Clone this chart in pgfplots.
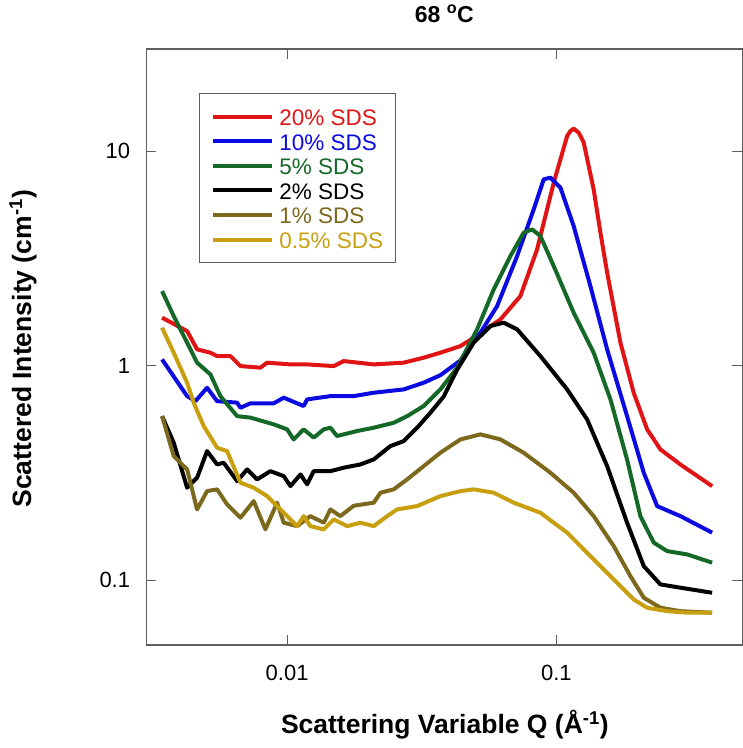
\documentclass[border=0pt]{standalone}
\usepackage{fontspec}
\setmainfont{Liberation Sans}
\usepackage{pgfplots}
\pgfplotsset{compat=1.18}
\definecolor{c20}{RGB}{224,20,20}
\definecolor{c10}{RGB}{10,10,225}
\definecolor{c5}{RGB}{20,105,40}
\definecolor{c2}{RGB}{0,0,0}
\definecolor{c1}{RGB}{125,105,30}
\definecolor{c05}{RGB}{200,160,15}
\definecolor{axgray}{RGB}{95,95,95}
\begin{document}
\begin{tikzpicture}
\useasboundingbox (0,0) rectangle (743pt,748pt);
\begin{loglogaxis}[
  at={(146.3pt,103pt)}, anchor=south west,
  scale only axis, width=596pt, height=596pt,
  xmin=0.003, xmax=0.49, ymin=0.05, ymax=30,
  xtick={0.01,0.1}, xticklabels={0.01,0.1},
  ytick={0.1,1,10}, yticklabels={0.1,1,10},
  xminorticks=false, yminorticks=false,
  tick align=inside, tick pos=both,
  major tick length=10pt,
  every tick/.style={axgray, line width=1pt},
  axis line style={axgray, line width=1.3pt},
  ticklabel style={font=\fontsize{22}{26}\selectfont},
  xticklabel style={anchor=center, inner sep=0pt, yshift=-27.5pt},
  yticklabel style={anchor=east, inner sep=0pt, xshift=-16pt},
  title={68 \textsuperscript{o}C},
  title style={at={(axis description cs:0.5,1.0487)}, anchor=center, font=\bfseries\fontsize{23}{27}\selectfont},
  xlabel={Scattering Variable Q (Å\textsuperscript{-1})},
  xlabel style={at={(axis description cs:0.501,-0.134)}, anchor=center, font=\bfseries\fontsize{26.5}{30}\selectfont},
  ylabel={Scattered Intensity (cm\textsuperscript{-1})},
  ylabel style={at={(axis description cs:-0.207,0.497)}, anchor=center, font=\bfseries\fontsize{26.5}{30}\selectfont},
  legend style={at={(axis description cs:0.0884,0.926)}, anchor=north west, draw=axgray, line width=0.8pt,
    font=\fontsize{22.5}{26}\selectfont, inner xsep=12pt, inner ysep=12pt, row sep=2.6pt, column sep=5pt,
    nodes={inner sep=0pt, text height=20pt, text depth=2pt}},
  legend cell align=left,
  legend image code/.code={\draw[#1] (0pt,0pt) -- (59pt,0pt);},
  every axis plot/.append style={line width=4pt, line join=round},
]
\addplot[c20] coordinates {
(0.003434,1.678)(0.004253,1.453)(0.004632,1.194)(0.005190,1.152)(0.005496,1.111)(0.006161,1.111)
(0.006710,0.998)(0.007959,0.981)(0.008427,1.035)(0.01029,1.016)(0.01187,1.016)(0.01489,0.998)
(0.01623,1.053)(0.02097,1.016)(0.02710,1.035)(0.03215,1.092)(0.03709,1.152)(0.04401,1.237)
(0.04930,1.353)(0.06196,1.647)(0.07349,2.115)(0.08477,3.493)(0.09772,7.146)(0.1096,11.79)
(0.1127,12.43)(0.1159,12.76)(0.1210,12.22)(0.1263,10.98)(0.1375,6.65)(0.1457,4.178)(0.1543,2.72)
(0.1729,1.283)(0.1936,0.750)(0.2172,0.506)(0.2433,0.408)(0.2887,0.347)(0.3787,0.275)
};
\addlegendentry{\textcolor{c20}{20\% SDS}}
\addplot[c10] coordinates {
(0.003434,1.072)(0.004253,0.723)(0.004565,0.685)(0.005045,0.791)(0.005496,0.685)(0.006523,0.674)
(0.006710,0.638)(0.007306,0.669)(0.008917,0.669)(0.009714,0.711)(0.01152,0.650)(0.01187,0.698)
(0.01448,0.723)(0.01767,0.723)(0.02097,0.750)(0.02710,0.777)(0.03215,0.835)(0.03709,0.905)
(0.04401,1.06)(0.05221,1.428)(0.06023,1.900)(0.07146,3.250)(0.08235,5.364)(0.08969,7.405)
(0.09499,7.541)(0.1035,6.773)(0.1159,4.485)(0.1337,2.355)(0.1543,1.194)(0.1830,0.583)
(0.2110,0.318)(0.2366,0.222)(0.2887,0.1994)(0.3787,0.167)
};
\addlegendentry{\textcolor{c10}{10\% SDS}}
\addplot[c5] coordinates {
(0.003434,2.232)(0.003793,1.707)(0.004253,1.283)(0.004632,1.035)(0.005190,0.913)(0.005653,0.723)
(0.006523,0.583)(0.007306,0.574)(0.008917,0.534)(0.01,0.506)(0.01058,0.454)(0.01152,0.506)
(0.01256,0.463)(0.01368,0.506)(0.01448,0.515)(0.01533,0.471)(0.01820,0.497)(0.02097,0.515)
(0.02487,0.543)(0.02790,0.583)(0.03215,0.650)(0.03709,0.777)(0.04279,0.981)(0.05075,1.480)
(0.05851,2.273)(0.06748,3.250)(0.07559,4.178)(0.08124,4.329)(0.08720,4.029)(0.09772,2.919)
(0.1159,1.770)(0.1375,1.152)(0.1587,0.698)(0.1830,0.366)(0.2050,0.1994)(0.2298,0.150)
(0.2576,0.137)(0.3057,0.1322)(0.3787,0.121)
};
\addlegendentry{\textcolor{c5}{5\% SDS}}
\addplot[c2] coordinates {
(0.003434,0.583)(0.003793,0.4385)(0.004253,0.2705)(0.004632,0.3012)(0.005045,0.4006)(0.005496,0.3473)
(0.005815,0.3537)(0.006523,0.2904)(0.007104,0.3292)(0.007737,0.2957)(0.008670,0.3232)(0.009714,0.3063)
(0.01029,0.2752)(0.01121,0.3120)(0.01187,0.2804)(0.01256,0.3232)(0.01448,0.3232)(0.01623,0.3353)
(0.01872,0.3473)(0.02097,0.3664)(0.02418,0.4228)(0.02710,0.4461)(0.03039,0.5150)(0.03405,0.6050)
(0.03816,0.72)(0.04279,0.96)(0.04930,1.283)(0.05687,1.533)(0.06372,1.590)(0.07146,1.480)
(0.08720,1.111)(0.1096,0.777)(0.1300,0.563)(0.1543,0.341)(0.1830,0.1858)(0.2110,0.1166)
(0.2433,0.0958)(0.2887,0.0925)(0.3787,0.0876)
};
\addlegendentry{\textcolor{c2}{2\% SDS}}
\addplot[c1] coordinates {
(0.003434,0.583)(0.003793,0.3797)(0.004253,0.3292)(0.004632,0.2143)(0.005045,0.2608)(0.005496,0.2657)
(0.005986,0.2261)(0.006710,0.1960)(0.007516,0.2343)(0.008306,0.1729)(0.009182,0.2303)(0.009714,0.1858)
(0.01089,0.1791)(0.01220,0.1994)(0.01368,0.1858)(0.01448,0.2143)(0.01577,0.1994)(0.01767,0.2229)
(0.02097,0.2303)(0.02221,0.2563)(0.02487,0.2657)(0.02790,0.2957)(0.03215,0.341)(0.03709,0.3938)
(0.04401,0.4543)(0.05221,0.4794)(0.06196,0.4543)(0.07559,0.3938)(0.09499,0.3178)(0.1159,0.2563)
(0.1375,0.1994)(0.1632,0.1446)(0.1883,0.1047)(0.2110,0.0831)(0.2433,0.0746)(0.2887,0.0719)(0.3787,0.0707)
};
\addlegendentry{\textcolor{c1}{1\% SDS}}
\addplot[c05] coordinates {
(0.003434,1.507)(0.003793,1.152)(0.004253,0.835)(0.004499,0.674)(0.004901,0.524)(0.005496,0.4155)
(0.005986,0.4006)(0.006710,0.2855)(0.007516,0.2705)(0.008427,0.2472)(0.009182,0.2221)(0.01,0.1994)
(0.01089,0.1791)(0.01152,0.1994)(0.01220,0.1791)(0.01368,0.1729)(0.01489,0.1925)(0.01670,0.1791)
(0.01872,0.1858)(0.02097,0.1791)(0.02351,0.1994)(0.02562,0.2143)(0.03039,0.2221)(0.03709,0.2472)
(0.04401,0.2608)(0.04930,0.2657)(0.05851,0.2563)(0.06941,0.2303)(0.08720,0.2068)(0.1096,0.1669)
(0.1337,0.1298)(0.1632,0.1011)(0.1936,0.0815)(0.2172,0.0746)(0.2576,0.0719)(0.3057,0.0707)(0.3787,0.0707)
};
\addlegendentry{\textcolor{c05}{0.5\% SDS}}
\end{loglogaxis}
\end{tikzpicture}
\end{document}
